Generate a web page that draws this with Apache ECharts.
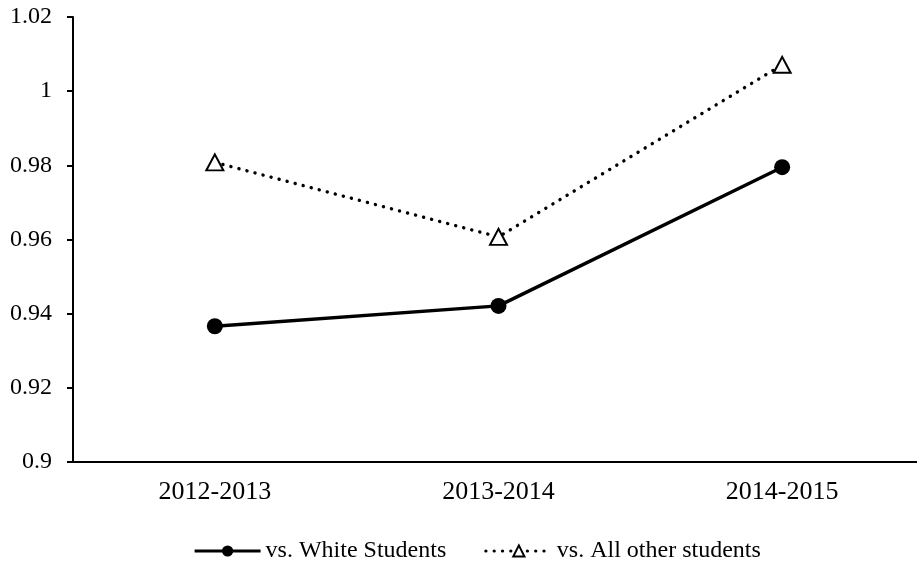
<!DOCTYPE html>
<html>
<head>
<meta charset="utf-8">
<title>Ratio by school year</title>
<script src="https://cdn.jsdelivr.net/npm/echarts@6/dist/echarts.min.js"></script>
<style>
  html, body { margin: 0; padding: 0; background: #fff; }
  #chart { width: 917px; height: 562px; }
</style>
</head>
<body>
<div id="chart"></div>
<script>
// School years on the category axis
const categories = ['2012-2013', '2013-2014', '2014-2015'];

// Ratio compared with White students
const whiteStudents = [0.9366, 0.9421, 0.9795];

// Ratio compared with all other students
const allOtherStudents = [0.9808, 0.9607, 1.0071];

// Value-axis range and step
const yMin = 0.9;
const yMax = 1.02;
const yStep = 0.02;

const seriesNames = ['vs. White Students', 'vs. All other students'];

const FONT = 'Liberation Serif, Times New Roman, serif';

const chart = echarts.init(document.getElementById('chart'), null, { renderer: 'canvas' });

chart.setOption({
  backgroundColor: '#ffffff',
  animation: false,
  textStyle: { fontFamily: FONT, color: '#000' },
  // plot area runs past the right edge of the canvas
  grid: { left: 73, top: 17, width: 851, height: 445, containLabel: false, outerBoundsMode: 'none' },
  legend: {
    left: 188,
    top: 534,
    itemGap: 38,
    itemWidth: 66,
    itemHeight: 14,
    textStyle: { fontFamily: FONT, fontSize: 24, color: '#000' },
    data: [
      { name: seriesNames[0], lineStyle: { width: 3.2 } },
      { name: seriesNames[1], lineStyle: { width: 3.2 } }
    ]
  },
  xAxis: {
    type: 'category',
    data: categories,
    boundaryGap: true,
    axisLine: { show: true, lineStyle: { color: '#000', width: 2 } },
    axisTick: { show: false },
    axisLabel: { fontFamily: FONT, fontSize: 26, color: '#000', margin: 17 },
    splitLine: { show: false }
  },
  yAxis: {
    type: 'value',
    min: yMin,
    max: yMax,
    interval: yStep,
    axisLine: { show: true, lineStyle: { color: '#000', width: 2 } },
    axisTick: { show: true, length: 6, inside: false, lineStyle: { color: '#000', width: 2 } },
    axisLabel: {
      fontFamily: FONT, fontSize: 24, color: '#000', margin: 21,
      formatter: v => String(parseFloat(v.toFixed(2)))
    },
    splitLine: { show: false }
  },
  series: [
    {
      name: seriesNames[0],
      type: 'line',
      data: whiteStudents,
      symbol: 'circle',
      symbolSize: 16,
      showAllSymbol: true,
      itemStyle: { color: '#000' },
      lineStyle: { color: '#000', width: 3.4, type: 'solid' },
      z: 3
    },
    {
      name: seriesNames[1],
      type: 'line',
      data: allOtherStudents,
      symbol: 'triangle',
      symbolSize: [17, 16],
      showAllSymbol: true,
      itemStyle: { color: '#fff', borderColor: '#000', borderWidth: 2 },
      lineStyle: { color: '#000', width: 3.4, type: [0.1, 8.2], cap: 'round' },
      z: 3
    }
  ]
});
</script>
</body>
</html>
